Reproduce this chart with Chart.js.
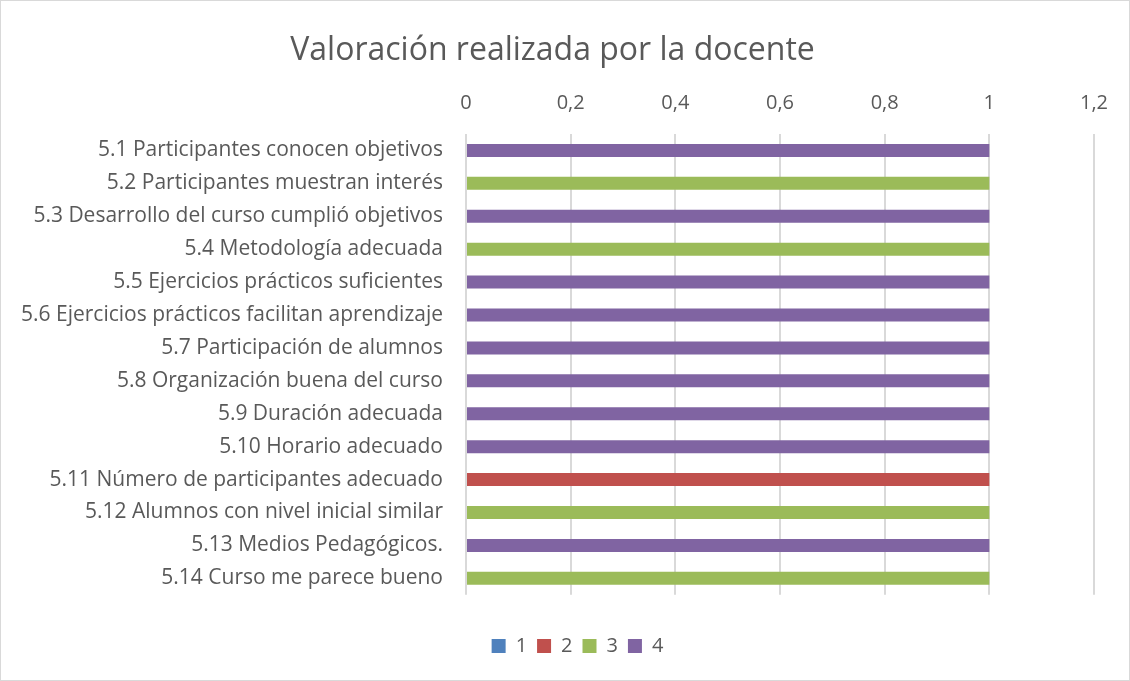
<!DOCTYPE html>
<html>
<head>
<meta charset="utf-8">
<script src="https://cdn.jsdelivr.net/npm/chart.js@4"></script>
<style>
  body { margin: 0; background: #fff; }
  #wrap { width: 1128px; height: 679px; border: 1px solid #d9d9d9; position: relative; }
</style>
</head>
<body>
<div id="wrap"><canvas id="chart"></canvas></div>
<script>
// categorías
const labels = [
  "5.1 Participantes conocen objetivos",
  "5.2 Participantes muestran interés",
  "5.3 Desarrollo del curso cumplió objetivos",
  "5.4 Metodología adecuada",
  "5.5 Ejercicios prácticos suficientes",
  "5.6 Ejercicios prácticos facilitan aprendizaje",
  "5.7 Participación de alumnos",
  "5.8 Organización buena del curso",
  "5.9 Duración adecuada",
  "5.10 Horario adecuado",
  "5.11 Número de participantes adecuado",
  "5.12 Alumnos con nivel inicial similar",
  "5.13 Medios Pedagógicos.",
  "5.14 Curso me parece bueno",
];

// series (valoración 1..4)
const serie1 = [0, 0, 0, 0, 0, 0, 0, 0, 0, 0, 0, 0, 0, 0];
const serie2 = [0, 0, 0, 0, 0, 0, 0, 0, 0, 0, 1, 0, 0, 0];
const serie3 = [0, 1, 0, 1, 0, 0, 0, 0, 0, 0, 0, 1, 0, 1];
const serie4 = [1, 0, 1, 0, 1, 1, 1, 1, 1, 1, 0, 0, 1, 0];

const xTicks = [0, 0.2, 0.4, 0.6, 0.8, 1, 1.2];

const colores = {
  "1": "#4F81BD",
  "2": "#C0504D",
  "3": "#9BBB59",
  "4": "#8064A2",
};

const fuente = "'Open Sans', 'Liberation Sans', sans-serif";
const gris = "#595959";

const series = [serie1, serie2, serie3, serie4];
const datasets = series.map((data, i) => {
  const key = String(i + 1);
  return {
    label: key,
    data: data,
    backgroundColor: colores[key],
    categoryPercentage: 0.395,
    barPercentage: 1,
  };
});

// la leyenda va algo desplazada a la derecha en el original
const moverLeyenda = {
  id: "moverLeyenda",
  afterLayout(chart) {
    chart.legend.left += 25;
    chart.legend.right += 25;
  },
};

new Chart(document.getElementById("chart"), {
  type: "bar",
  data: { labels: labels, datasets: datasets },
  plugins: [moverLeyenda],
  options: {
    indexAxis: "y",
    responsive: true,
    maintainAspectRatio: false,
    animation: false,
    layout: { padding: { left: 10, right: 35, top: 8, bottom: 14 } },
    plugins: {
      title: {
        display: true,
        text: "Valoración realizada por la docente",
        color: gris,
        font: { family: fuente, size: 32, weight: "normal" },
        padding: { top: 23, bottom: 1.6 },
      },
      legend: {
        position: "bottom",
        // título vacío solo para separar la leyenda del gráfico
        title: { display: true, text: "", font: { size: 1 }, padding: { top: 30, bottom: 0 } },
        labels: {
          color: gris,
          font: { family: fuente, size: 20 },
          boxWidth: 14,
          boxHeight: 14,
          padding: 10,
        },
      },
      tooltip: { enabled: false },
    },
    scales: {
      x: {
        position: "top",
        stacked: true,
        min: 0,
        max: 1.2,
        afterBuildTicks: (scale) => {
          scale.ticks = xTicks.map((v) => ({ value: v }));
        },
        ticks: {
          color: gris,
          font: { family: fuente, size: 20 },
          padding: 19,
          callback: (value) => String(Math.round(value * 10) / 10).replace(".", ","),
        },
        grid: { color: "#d9d9d9", lineWidth: 2, drawTicks: false },
        border: { display: false },
      },
      y: {
        stacked: true,
        afterFit: (scale) => {
          scale.width = 455;
        },
        ticks: {
          color: gris,
          font: { family: fuente, size: 21 },
          padding: 23,
        },
        grid: { display: false, drawTicks: false },
        border: { display: false },
      },
    },
  },
});
</script>
</body>
</html>
